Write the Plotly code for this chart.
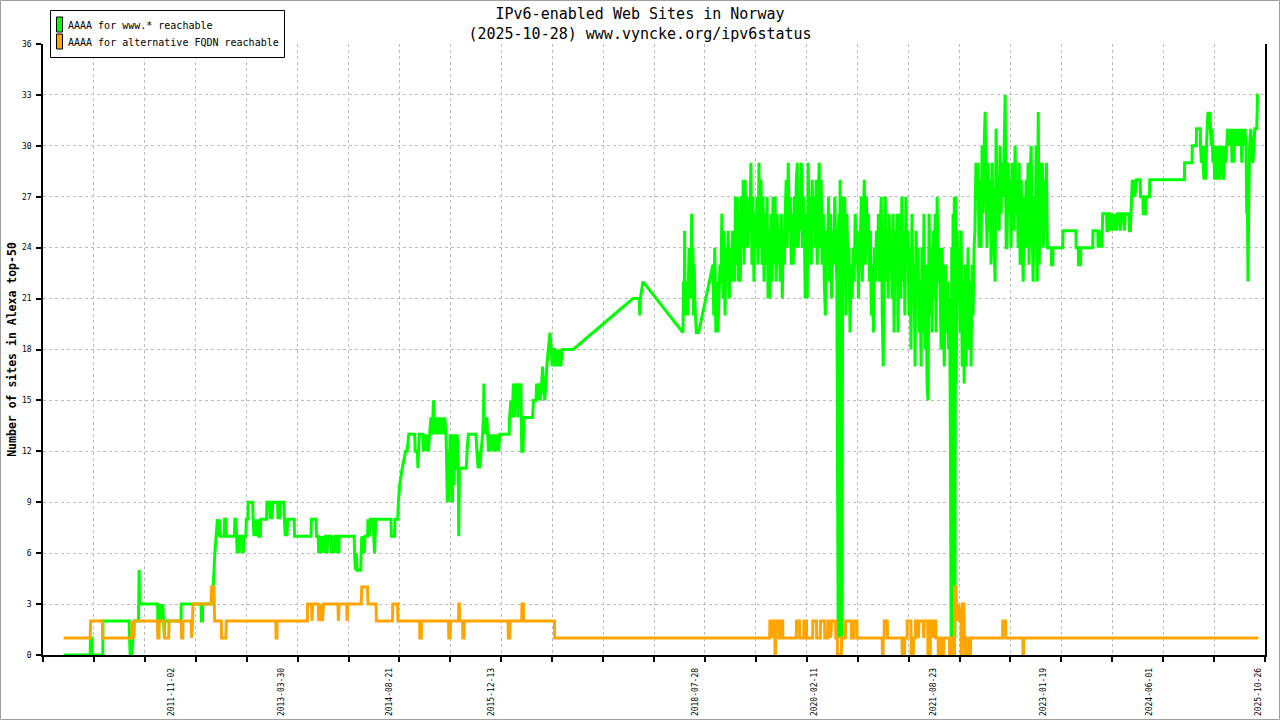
import plotly.graph_objects as go
import pandas as pd

TITLE_LINES = ["IPv6-enabled Web Sites in Norway", "(2025-10-28) www.vyncke.org/ipv6status"]
Y_TITLE = "Number of sites in Alexa top-50"
SERIES_NAMES = ["AAAA for www.* reachable", "AAAA for alternative FQDN reachable"]
SERIES_COLORS = ["#00ff00", "#ffa500"]
X_LABEL_DATES = ["2011-11-02", "2013-03-30", "2014-08-21", "2015-12-13", "2018-07-28",
                 "2020-02-11", "2021-08-23", "2023-01-19", "2024-06-01", "2025-10-26"]
X_RANGE = ["2010-03-06", "2025-11-28"]
Y_TICKS = [0, 3, 6, 9, 12, 15, 18, 21, 24, 27, 30, 33, 36]

# ---------------- green series: AAAA for www.* reachable ----------------
GREEN_2010_2013 = [
    ("2010-06-11", 0), ("2010-10-14", 0), ("2010-10-15", 1), ("2010-10-22", 1), ("2010-10-23", 0),
    ("2010-12-12", 0), ("2010-12-13", 2), ("2011-04-15", 2), ("2011-04-17", 1), ("2011-04-20", 0),
    ("2011-04-28", 0), ("2011-05-03", 1), ("2011-05-08", 2), ("2011-05-29", 2), ("2011-05-30", 3),
    ("2011-06-01", 5), ("2011-06-03", 3), ("2011-08-27", 3), ("2011-08-28", 2), ("2011-09-08", 3),
    ("2011-09-12", 2), ("2011-09-20", 3), ("2011-09-24", 2), ("2011-09-28", 1), ("2011-09-30", 2),
    ("2011-12-15", 2), ("2011-12-16", 3), ("2012-03-18", 3), ("2012-03-20", 2), ("2012-03-25", 2),
    ("2012-03-26", 3), ("2012-05-10", 3), ("2012-05-14", 4), ("2012-05-22", 6), ("2012-05-28", 7),
    ("2012-06-03", 8), ("2012-06-08", 7), ("2012-06-12", 8), ("2012-06-16", 7), ("2012-07-05", 7),
    ("2012-07-07", 8), ("2012-07-12", 8), ("2012-07-15", 7), ("2012-08-22", 7), ("2012-08-24", 8),
    ("2012-08-30", 8), ("2012-09-01", 7), ("2012-09-04", 6), ("2012-09-07", 7), ("2012-09-12", 7),
    ("2012-09-14", 6), ("2012-09-17", 7), ("2012-10-01", 7), ("2012-10-03", 6), ("2012-10-05", 7),
    ("2012-10-15", 7), ("2012-10-17", 8), ("2012-10-24", 8), ("2012-10-26", 9), ("2012-11-16", 9),
    ("2012-11-18", 8), ("2012-11-22", 7), ("2012-11-26", 8), ("2012-11-29", 7), ("2012-12-02", 8),
    ("2012-12-06", 7), ("2012-12-10", 8), ("2012-12-14", 7), ("2012-12-22", 7), ("2012-12-24", 8),
    ("2013-01-20", 8), ("2013-01-22", 9), ("2013-02-04", 9), ("2013-02-06", 8), ("2013-02-10", 9),
    ("2013-02-14", 8), ("2013-02-19", 9), ("2013-03-13", 9), ("2013-03-15", 8), ("2013-03-19", 9),
    ("2013-03-22", 8), ("2013-03-25", 9), ("2013-04-12", 9), ("2013-04-14", 8), ("2013-04-18", 7),
    ("2013-04-22", 8), ("2013-04-26", 7), ("2013-04-30", 8), ("2013-05-30", 8), ("2013-06-01", 7),
    ("2013-08-17", 7), ("2013-08-19", 8), ("2013-09-10", 8), ("2013-09-12", 7), ("2013-09-20", 7),
    ("2013-09-22", 6), ("2013-09-28", 7), ("2013-10-04", 6), ("2013-10-12", 7), ("2013-10-20", 6),
    ("2013-10-24", 7), ("2013-10-30", 7), ("2013-11-01", 6), ("2013-11-04", 7), ("2013-11-19", 7),
    ("2013-11-21", 6), ("2013-11-27", 7), ("2013-12-03", 6), ("2013-12-07", 7), ("2013-12-16", 7),
    ("2013-12-18", 6), ("2013-12-22", 7), ("2013-12-26", 6), ("2013-12-28", 7),
]
GREEN_2014_2018 = [
    ("2014-03-08", 7), ("2014-03-10", 6), ("2014-03-14", 5), ("2014-03-18", 6), ("2014-03-22", 5),
    ("2014-04-08", 5), ("2014-04-10", 6), ("2014-04-13", 7), ("2014-04-17", 6), ("2014-04-21", 7),
    ("2014-04-25", 6), ("2014-04-28", 7), ("2014-05-10", 7), ("2014-05-12", 8), ("2014-05-18", 7),
    ("2014-05-24", 8), ("2014-06-04", 8), ("2014-06-08", 7), ("2014-06-12", 6), ("2014-06-18", 8),
    ("2014-08-28", 8), ("2014-08-30", 7), ("2014-09-14", 7), ("2014-09-16", 8), ("2014-09-29", 8),
    ("2014-10-02", 9), ("2014-10-08", 10), ("2014-10-20", 11), ("2014-11-05", 12), ("2014-11-12", 12),
    ("2014-11-20", 13), ("2014-12-18", 13), ("2014-12-20", 12), ("2014-12-30", 12), ("2015-01-02", 11),
    ("2015-01-05", 12), ("2015-01-09", 13), ("2015-01-25", 13), ("2015-01-28", 12), ("2015-02-02", 13),
    ("2015-02-08", 12), ("2015-02-14", 13), ("2015-02-20", 12), ("2015-02-26", 13), ("2015-03-04", 14),
    ("2015-03-10", 13), ("2015-03-16", 15), ("2015-03-19", 14), ("2015-03-24", 13), ("2015-03-28", 14),
    ("2015-04-05", 13), ("2015-04-10", 14), ("2015-04-18", 13), ("2015-04-24", 14), ("2015-05-02", 13),
    ("2015-05-08", 14), ("2015-05-14", 13), ("2015-05-16", 12), ("2015-05-20", 9), ("2015-05-25", 12),
    ("2015-05-28", 9), ("2015-06-02", 13), ("2015-06-06", 10), ("2015-06-10", 13), ("2015-06-13", 9),
    ("2015-06-17", 13), ("2015-06-21", 10), ("2015-06-25", 13), ("2015-06-28", 11), ("2015-07-03", 11),
    ("2015-07-06", 13), ("2015-07-10", 11), ("2015-07-13", 7), ("2015-07-16", 11), ("2015-08-17", 11),
    ("2015-08-21", 12), ("2015-08-27", 13), ("2015-10-02", 13), ("2015-10-06", 12), ("2015-10-12", 11),
    ("2015-10-16", 12), ("2015-10-20", 11), ("2015-10-26", 12), ("2015-11-02", 13), ("2015-11-06", 14),
    ("2015-11-08", 16), ("2015-11-10", 14), ("2015-11-16", 13), ("2015-11-22", 14), ("2015-11-26", 13),
    ("2015-11-30", 12), ("2015-12-04", 13), ("2015-12-10", 12), ("2015-12-16", 13), ("2015-12-22", 12),
    ("2015-12-28", 13), ("2016-01-04", 12), ("2016-01-10", 13), ("2016-01-16", 12), ("2016-01-22", 13),
    ("2016-03-06", 13), ("2016-03-08", 14), ("2016-03-14", 15), ("2016-03-20", 14), ("2016-03-26", 16),
    ("2016-03-30", 14), ("2016-04-04", 16), ("2016-04-08", 15), ("2016-04-12", 16), ("2016-04-16", 14),
    ("2016-04-20", 16), ("2016-04-24", 15), ("2016-04-30", 16), ("2016-05-04", 12), ("2016-05-10", 12),
    ("2016-05-14", 14), ("2016-06-24", 14), ("2016-06-28", 15), ("2016-07-10", 15), ("2016-07-13", 16),
    ("2016-07-18", 15), ("2016-07-24", 16), ("2016-07-30", 15), ("2016-08-06", 16), ("2016-08-10", 17),
    ("2016-08-14", 16), ("2016-08-20", 15), ("2016-08-26", 16), ("2016-08-30", 17), ("2016-09-06", 18),
    ("2016-09-14", 19), ("2016-09-20", 18), ("2016-09-24", 17), ("2016-10-01", 18), ("2016-10-06", 18),
    ("2016-10-10", 17), ("2016-10-14", 18), ("2016-10-18", 17), ("2016-10-22", 18), ("2016-10-26", 17),
    ("2016-10-30", 18), ("2016-11-04", 17), ("2016-11-10", 18), ("2017-01-01", 18), ("2017-10-09", 21),
    ("2017-11-08", 21), ("2017-11-10", 20), ("2017-11-13", 21), ("2017-11-25", 22), ("2018-06-01", 19),
    ("2018-06-04", 22), ("2018-06-07", 20), ("2018-06-09", 25), ("2018-06-11", 21), ("2018-06-14", 22),
    ("2018-06-17", 20), ("2018-06-20", 22), ("2018-06-23", 20), ("2018-06-27", 22), ("2018-06-30", 24),
    ("2018-07-03", 22), ("2018-07-06", 23), ("2018-07-09", 21), ("2018-07-12", 26), ("2018-07-15", 22),
    ("2018-07-18", 24), ("2018-07-21", 20), ("2018-07-24", 23), ("2018-07-27", 21), ("2018-07-30", 20),
    ("2018-08-03", 19), ("2018-08-14", 19), ("2018-10-20", 23),
]
# dense daily-sampled stretches: (first day, last day, readings in order)
GREEN_DENSE_2018_2020 = [
    ("2018-10-24", "2018-11-27", [20, 24, 19, 22, 19, 21, 23, 22]),
    ("2018-12-01", "2019-01-30", [26, 21, 25, 20, 24, 22, 25, 21, 24, 22, 25, 23, 22]),
    ("2019-02-03", "2019-04-08", [27, 23, 27, 22, 26, 22, 27, 24, 28, 23, 28, 24, 27, 24, 26]),
    ("2019-04-12", "2019-07-11", [25, 29, 23, 27, 22, 26, 24, 27, 23, 29, 24, 28, 23, 27, 22, 26, 23, 27, 21, 25]),
    ("2019-07-15", "2019-09-21", [21, 26, 22, 27, 23, 27, 22, 26, 23, 25, 22, 26, 21, 25, 23]),
    ("2019-09-25", "2019-12-24", [26, 28, 24, 29, 25, 27, 23, 26, 23, 27, 24, 28, 29, 24, 27, 25, 29, 24, 27, 25]),
    ("2019-12-28", "2020-03-03", [21, 26, 21, 29, 24, 27, 23, 28, 25, 27, 24, 28, 23, 27, 29]),
    ("2020-03-07", "2020-05-25", [24, 28, 23, 26, 22, 20, 25, 23, 27, 22, 26, 21, 25, 23, 27, 24, 22]),
]
GREEN_OUTAGE_2020 = [("2020-05-28", 11), ("2020-05-31", 1), ("2020-06-03", 26), ("2020-06-06", 1),
                     ("2020-06-09", 28), ("2020-06-12", 1), ("2020-06-15", 27), ("2020-06-18", 1),
                     ("2020-06-21", 27)]
GREEN_DENSE_2020_2021 = [
    ("2020-06-26", "2020-09-08", [22, 27, 20, 26, 23, 24, 19, 23, 21, 24, 22, 26, 23, 25, 21, 24]),
    ("2020-09-12", "2020-12-11", [24, 27, 22, 26, 28, 23, 27, 24, 26, 22, 25, 20, 23, 19, 24, 22, 25, 23, 26, 22]),
    ("2020-12-15", "2021-03-13", [25, 27, 20, 17, 24, 27, 22, 25, 21, 26, 23, 24, 21, 26, 19, 25, 22, 26, 19, 24]),
    ("2021-03-17", "2021-06-25", [26, 21, 27, 22, 25, 20, 27, 23, 25, 20, 24, 18, 26, 21, 23, 17, 25, 22, 24, 19, 22, 17]),
    ("2021-06-29", "2021-09-18", [24, 19, 26, 18, 23, 16, 15, 26, 20, 24, 19, 25, 21, 26, 19, 27, 22, 24]),
    ("2021-09-22", "2021-11-06", [22, 18, 24, 20, 17, 23, 19, 22, 18, 21]),
]
GREEN_OUTAGE_2021 = [("2021-11-10", 12), ("2021-11-13", 1), ("2021-11-16", 24), ("2021-11-19", 1),
                     ("2021-11-22", 26), ("2021-11-25", 1), ("2021-11-28", 27), ("2021-12-01", 1),
                     ("2021-12-04", 27)]
GREEN_DENSE_2021_2023 = [
    ("2021-12-07", "2022-03-01", [16, 25, 21, 24, 19, 25, 17, 22, 16, 23, 17, 21, 24, 18, 22, 17, 23, 20, 24]),
    ("2022-03-05", "2022-04-27", [25, 29, 27, 29, 24, 28, 24, 30, 26, 30, 32, 27]),
    ("2022-05-01", "2022-07-30", [24, 29, 25, 28, 23, 29, 26, 24, 22, 31, 26, 28, 25, 30, 26, 29, 27, 30, 33, 24]),
    ("2022-08-03", "2022-11-01", [24, 29, 26, 28, 24, 29, 27, 25, 30, 26, 28, 24, 29, 23, 28, 25, 22, 27, 24, 28]),
    ("2022-11-05", "2023-02-09", [24, 29, 23, 28, 30, 25, 22, 27, 24, 30, 22, 32, 23, 29, 25, 29, 24, 28, 25, 29, 24]),
]
GREEN_2023_2025 = [
    ("2023-02-11", 24), ("2023-02-27", 24), ("2023-02-28", 23), ("2023-03-06", 23), ("2023-03-07", 24),
    ("2023-04-22", 24), ("2023-04-23", 25), ("2023-06-23", 25), ("2023-06-24", 24), ("2023-07-04", 24),
    ("2023-07-05", 23), ("2023-07-15", 23), ("2023-07-16", 24), ("2023-09-10", 24), ("2023-09-11", 25),
    ("2023-10-04", 25), ("2023-10-05", 24), ("2023-10-10", 25), ("2023-10-14", 24), ("2023-10-19", 25),
    ("2023-10-23", 24), ("2023-10-27", 26), ("2023-11-14", 26), ("2023-11-16", 25), ("2023-11-22", 25),
    ("2023-11-23", 26), ("2023-12-01", 26), ("2023-12-03", 25), ("2023-12-08", 26), ("2023-12-12", 25),
    ("2023-12-16", 26), ("2023-12-21", 25), ("2023-12-26", 26), ("2024-01-01", 25), ("2024-01-05", 26),
    ("2024-01-16", 26), ("2024-01-18", 25), ("2024-01-24", 26), ("2024-02-04", 26), ("2024-02-06", 25),
    ("2024-02-10", 26), ("2024-02-28", 26), ("2024-03-01", 25), ("2024-03-05", 25), ("2024-03-08", 26),
    ("2024-03-11", 27), ("2024-03-14", 28), ("2024-03-18", 27), ("2024-03-22", 28), ("2024-03-26", 27),
    ("2024-04-02", 28), ("2024-04-20", 28), ("2024-04-22", 27), ("2024-05-03", 27), ("2024-05-04", 26),
    ("2024-05-16", 26), ("2024-05-17", 27), ("2024-06-03", 27), ("2024-06-04", 28), ("2024-11-14", 28),
    ("2024-11-15", 29), ("2024-12-20", 29), ("2024-12-21", 30), ("2025-01-09", 30), ("2025-01-10", 31),
    ("2025-01-28", 31), ("2025-01-29", 30), ("2025-02-02", 29), ("2025-02-06", 30), ("2025-02-10", 29),
    ("2025-02-14", 28), ("2025-02-18", 30), ("2025-02-22", 28), ("2025-02-26", 30), ("2025-03-01", 31),
    ("2025-03-05", 32), ("2025-03-10", 31), ("2025-03-14", 32), ("2025-03-20", 30), ("2025-03-24", 31),
    ("2025-03-28", 29), ("2025-04-01", 30), ("2025-04-05", 28), ("2025-04-09", 30), ("2025-04-13", 28),
    ("2025-04-17", 30), ("2025-04-21", 28), ("2025-04-25", 30), ("2025-04-29", 28), ("2025-05-03", 30),
    ("2025-05-08", 29), ("2025-05-12", 30), ("2025-05-17", 28), ("2025-05-22", 30), ("2025-05-27", 29),
    ("2025-06-01", 30), ("2025-06-05", 31), ("2025-06-09", 30), ("2025-06-13", 31), ("2025-06-17", 30),
    ("2025-06-22", 31), ("2025-06-26", 29), ("2025-07-01", 31), ("2025-07-05", 29), ("2025-07-09", 31),
    ("2025-07-13", 30), ("2025-07-18", 31), ("2025-07-22", 30), ("2025-07-27", 31), ("2025-08-01", 30),
    ("2025-08-06", 31), ("2025-08-11", 29), ("2025-08-16", 31), ("2025-08-21", 30), ("2025-08-26", 31),
    ("2025-08-31", 30), ("2025-09-03", 26), ("2025-09-06", 27), ("2025-09-09", 22), ("2025-09-12", 26),
    ("2025-09-17", 30), ("2025-09-22", 31), ("2025-09-27", 30), ("2025-10-02", 29), ("2025-10-07", 30),
    ("2025-10-11", 31), ("2025-10-20", 31), ("2025-10-24", 33), ("2025-10-28", 33),
]

# ---------------- orange series: AAAA for alternative FQDN reachable ----------------
ORANGE_2010_2016 = [
    ("2010-06-11", 1), ("2010-10-14", 1), ("2010-10-16", 2), ("2010-12-10", 2), ("2010-12-12", 1),
    ("2011-04-27", 1), ("2011-04-29", 2), ("2011-05-03", 1), ("2011-05-06", 2), ("2011-05-08", 1),
    ("2011-05-10", 2), ("2011-08-26", 2), ("2011-08-28", 1), ("2011-09-02", 1), ("2011-09-04", 2),
    ("2011-09-27", 2), ("2011-09-29", 1), ("2011-10-18", 1), ("2011-10-20", 2), ("2011-12-16", 2),
    ("2011-12-18", 1), ("2011-12-23", 1), ("2011-12-24", 2), ("2012-02-01", 2), ("2012-02-03", 1),
    ("2012-02-07", 2), ("2012-02-09", 3), ("2012-05-04", 3), ("2012-05-07", 4), ("2012-05-18", 4),
    ("2012-05-21", 2), ("2012-06-21", 2), ("2012-06-23", 1), ("2012-07-13", 1), ("2012-07-15", 2),
    ("2013-03-05", 2), ("2013-03-06", 1), ("2013-03-10", 1), ("2013-03-11", 2), ("2013-07-31", 2),
    ("2013-08-01", 3), ("2013-08-20", 3), ("2013-08-22", 2), ("2013-08-25", 3), ("2013-09-20", 3),
    ("2013-09-22", 2), ("2013-09-26", 3), ("2013-09-30", 2), ("2013-10-06", 3), ("2013-10-10", 2),
    ("2013-10-15", 3), ("2013-12-22", 3), ("2013-12-24", 2), ("2013-12-27", 3), ("2014-02-01", 3),
    ("2014-02-03", 2), ("2014-02-06", 3), ("2014-04-10", 3), ("2014-04-13", 4), ("2014-05-10", 4),
    ("2014-05-12", 3), ("2014-06-19", 3), ("2014-06-21", 2), ("2014-09-04", 2), ("2014-09-06", 3),
    ("2014-09-28", 3), ("2014-09-30", 2), ("2015-01-10", 2), ("2015-01-11", 1), ("2015-01-18", 1),
    ("2015-01-19", 2), ("2015-05-26", 2), ("2015-05-27", 1), ("2015-06-03", 1), ("2015-06-04", 2),
    ("2015-07-12", 2), ("2015-07-13", 3), ("2015-07-16", 3), ("2015-07-17", 2), ("2015-07-31", 2),
    ("2015-08-01", 1), ("2015-08-07", 1), ("2015-08-08", 2), ("2016-03-01", 2), ("2016-03-02", 1),
    ("2016-03-09", 1), ("2016-03-10", 2), ("2016-05-04", 2), ("2016-05-05", 3), ("2016-05-12", 3),
    ("2016-05-13", 2), ("2016-10-05", 2), ("2016-10-06", 1),
]
ORANGE_2019_2025 = [
    ("2019-07-14", 1), ("2019-07-15", 2), ("2019-07-24", 2), ("2019-07-25", 1), ("2019-07-28", 2),
    ("2019-08-07", 2), ("2019-08-08", 0), ("2019-08-11", 0), ("2019-08-12", 2), ("2019-08-26", 2),
    ("2019-08-27", 1), ("2019-09-02", 1), ("2019-09-03", 2), ("2019-09-13", 2), ("2019-09-14", 1),
    ("2019-11-16", 1), ("2019-11-17", 2), ("2019-12-01", 2), ("2019-12-02", 1), ("2019-12-21", 1),
    ("2019-12-22", 2), ("2020-01-03", 2), ("2020-01-04", 1), ("2020-02-01", 1), ("2020-02-02", 2),
    ("2020-02-19", 2), ("2020-02-20", 1), ("2020-03-08", 1), ("2020-03-09", 2), ("2020-03-28", 2),
    ("2020-03-29", 1), ("2020-04-12", 1), ("2020-04-13", 2), ("2020-04-25", 2), ("2020-04-26", 1),
    ("2020-04-30", 2), ("2020-05-19", 2), ("2020-05-20", 1), ("2020-05-27", 1), ("2020-05-28", 0),
    ("2020-06-15", 0), ("2020-06-16", 1), ("2020-07-04", 1), ("2020-07-05", 2), ("2020-08-01", 2),
    ("2020-08-02", 1), ("2020-08-12", 1), ("2020-08-13", 2), ("2020-08-27", 2), ("2020-08-28", 1),
    ("2020-12-24", 1), ("2020-12-25", 0), ("2020-12-28", 0), ("2020-12-29", 1), ("2021-01-02", 1),
    ("2021-01-03", 2), ("2021-01-17", 2), ("2021-01-18", 1), ("2021-03-27", 1), ("2021-03-28", 0),
    ("2021-04-08", 0), ("2021-04-09", 1), ("2021-04-20", 1), ("2021-04-21", 2), ("2021-05-08", 2),
    ("2021-05-09", 0), ("2021-05-20", 0), ("2021-05-21", 1), ("2021-05-29", 1), ("2021-05-30", 2),
    ("2021-06-10", 2), ("2021-06-12", 1), ("2021-06-15", 2), ("2021-07-05", 2), ("2021-07-07", 1),
    ("2021-07-10", 2), ("2021-07-26", 2), ("2021-07-27", 0), ("2021-08-07", 0), ("2021-08-08", 2),
    ("2021-08-20", 2), ("2021-08-22", 1), ("2021-08-25", 2), ("2021-09-02", 2), ("2021-09-03", 1),
    ("2021-09-13", 1), ("2021-09-14", 0), ("2021-09-22", 0), ("2021-09-23", 1), ("2021-09-27", 1),
    ("2021-09-28", 0), ("2021-10-09", 0), ("2021-10-10", 1), ("2021-11-05", 1), ("2021-11-06", 0),
    ("2021-11-11", 0), ("2021-11-12", 1), ("2021-11-19", 1), ("2021-11-20", 0), ("2021-11-29", 0),
    ("2021-11-30", 4), ("2021-12-07", 4), ("2021-12-08", 3), ("2021-12-14", 2), ("2021-12-18", 3),
    ("2021-12-24", 2), ("2021-12-30", 2), ("2021-12-31", 0), ("2022-01-04", 3), ("2022-01-12", 3),
    ("2022-01-16", 0), ("2022-01-24", 0), ("2022-01-26", 1), ("2022-02-04", 1), ("2022-02-05", 0),
    ("2022-02-12", 0), ("2022-02-13", 1), ("2022-07-13", 1), ("2022-07-14", 2), ("2022-07-27", 2),
    ("2022-07-28", 1), ("2022-10-16", 1), ("2022-10-17", 0), ("2022-10-20", 0), ("2022-10-21", 1),
    ("2025-10-28", 1),
]


def collect(*parts):
    xs, ys = [], []
    for part in parts:
        if part and len(part[0]) == 3:  # dense stretches of daily readings
            for start, end, vals in part:
                xs.extend(pd.date_range(start, end, periods=len(vals)))
                ys.extend(vals)
        else:
            for d, v in part:
                xs.append(pd.Timestamp(d))
                ys.append(v)
    return xs, ys


gx, gy = collect(GREEN_2010_2013, GREEN_2014_2018, GREEN_DENSE_2018_2020, GREEN_OUTAGE_2020,
                 GREEN_DENSE_2020_2021, GREEN_OUTAGE_2021, GREEN_DENSE_2021_2023, GREEN_2023_2025)
ox, oy = collect(ORANGE_2010_2016, ORANGE_2019_2025)

FONT = "DejaVu Sans Mono"
W, H = 1280, 720
ML, MR, MT, MB = 43, 15, 44, 65
PW, PH = W - ML - MR, H - MT - MB


def px_x(px):
    return (px - ML) / PW


def px_y(py):
    return (H - MB - py) / PH


fig = go.Figure()
fig.add_trace(go.Scatter(x=gx, y=gy, mode="lines", name=SERIES_NAMES[0], showlegend=False,
                         line=dict(color=SERIES_COLORS[0], width=3, simplify=False)))
fig.add_trace(go.Scatter(x=ox, y=oy, mode="lines", name=SERIES_NAMES[1], showlegend=False,
                         line=dict(color=SERIES_COLORS[1], width=3, simplify=False)))

t0, t1 = pd.Timestamp(X_RANGE[0]), pd.Timestamp(X_RANGE[1])
minor_vals = [t0 + (t1 - t0) * i / 24 for i in range(25)]

# legend box drawn in the top-left corner, as in the original chart
shapes = [
    dict(type="rect", xref="paper", yref="paper",
         x0=px_x(0.5), x1=px_x(W - 0.5), y0=px_y(H - 0.5), y1=px_y(0.5),
         line=dict(color="#a0a0a0", width=1), fillcolor="rgba(0,0,0,0)", layer="below"),
    dict(type="rect", xref="paper", yref="paper",
         x0=px_x(50.5), x1=px_x(284.5), y0=px_y(57.5), y1=px_y(10.5),
         line=dict(color="black", width=1), fillcolor="white", layer="above"),
]
annotations = []
for i, (name, color) in enumerate(zip(SERIES_NAMES, SERIES_COLORS)):
    top = 17 + 17 * i
    shapes.append(dict(type="rect", xref="paper", yref="paper",
                       x0=px_x(56.5), x1=px_x(62.5), y0=px_y(top + 15), y1=px_y(top),
                       line=dict(color="black", width=1), fillcolor=color, layer="above"))
    annotations.append(dict(text=name, xref="paper", yref="paper", x=px_x(66), y=px_y(top + 8),
                            xanchor="left", yanchor="middle", showarrow=False,
                            font=dict(family=FONT, size=10, color="black")))

fig.update_layout(
    width=W, height=H,
    margin=dict(l=ML, r=MR, t=MT, b=MB, pad=0, autoexpand=False),
    paper_bgcolor="white", plot_bgcolor="white",
    font=dict(family=FONT, color="black"),
    title=dict(text="<br>".join(TITLE_LINES), x=0.5, xref="container", xanchor="center",
               y=1 - 19 / H, yref="container", yanchor="top",
               font=dict(family=FONT, size=15, color="black")),
    showlegend=False,
    xaxis=dict(type="date", range=X_RANGE, tickmode="array", tickvals=X_LABEL_DATES,
               ticktext=X_LABEL_DATES, tickangle=-90, ticks="", showgrid=False, automargin=False,
               tickfont=dict(family=FONT, size=8, color="black"), ticklabelstandoff=8,
               showline=True, linecolor="black", linewidth=1.5, zeroline=False,
               minor=dict(tickmode="array", tickvals=minor_vals, ticks="outside", ticklen=5,
                          tickwidth=1.5, tickcolor="black", showgrid=True,
                          gridcolor="#bdbdbd", griddash="dot", gridwidth=1)),
    yaxis=dict(range=[0, 36], tickmode="array", tickvals=Y_TICKS, ticks="outside", ticklen=5,
               tickwidth=1.5, tickcolor="black", showline=True, linecolor="black", linewidth=1.5,
               mirror=True, zeroline=False, showgrid=True, gridcolor="#bdbdbd", griddash="dot",
               gridwidth=1, automargin=False, tickfont=dict(family=FONT, size=8, color="black"),
               ticklabelstandoff=3,
               title=dict(text="<b>" + Y_TITLE + "</b>", standoff=3,
                          font=dict(family=FONT, size=11.5, color="black"))),
    shapes=shapes,
    annotations=annotations,
)

fig.write_html("out.html", config={"displayModeBar": False},
               post_script="document.body.style.margin='0px';document.body.style.padding='0px';")
